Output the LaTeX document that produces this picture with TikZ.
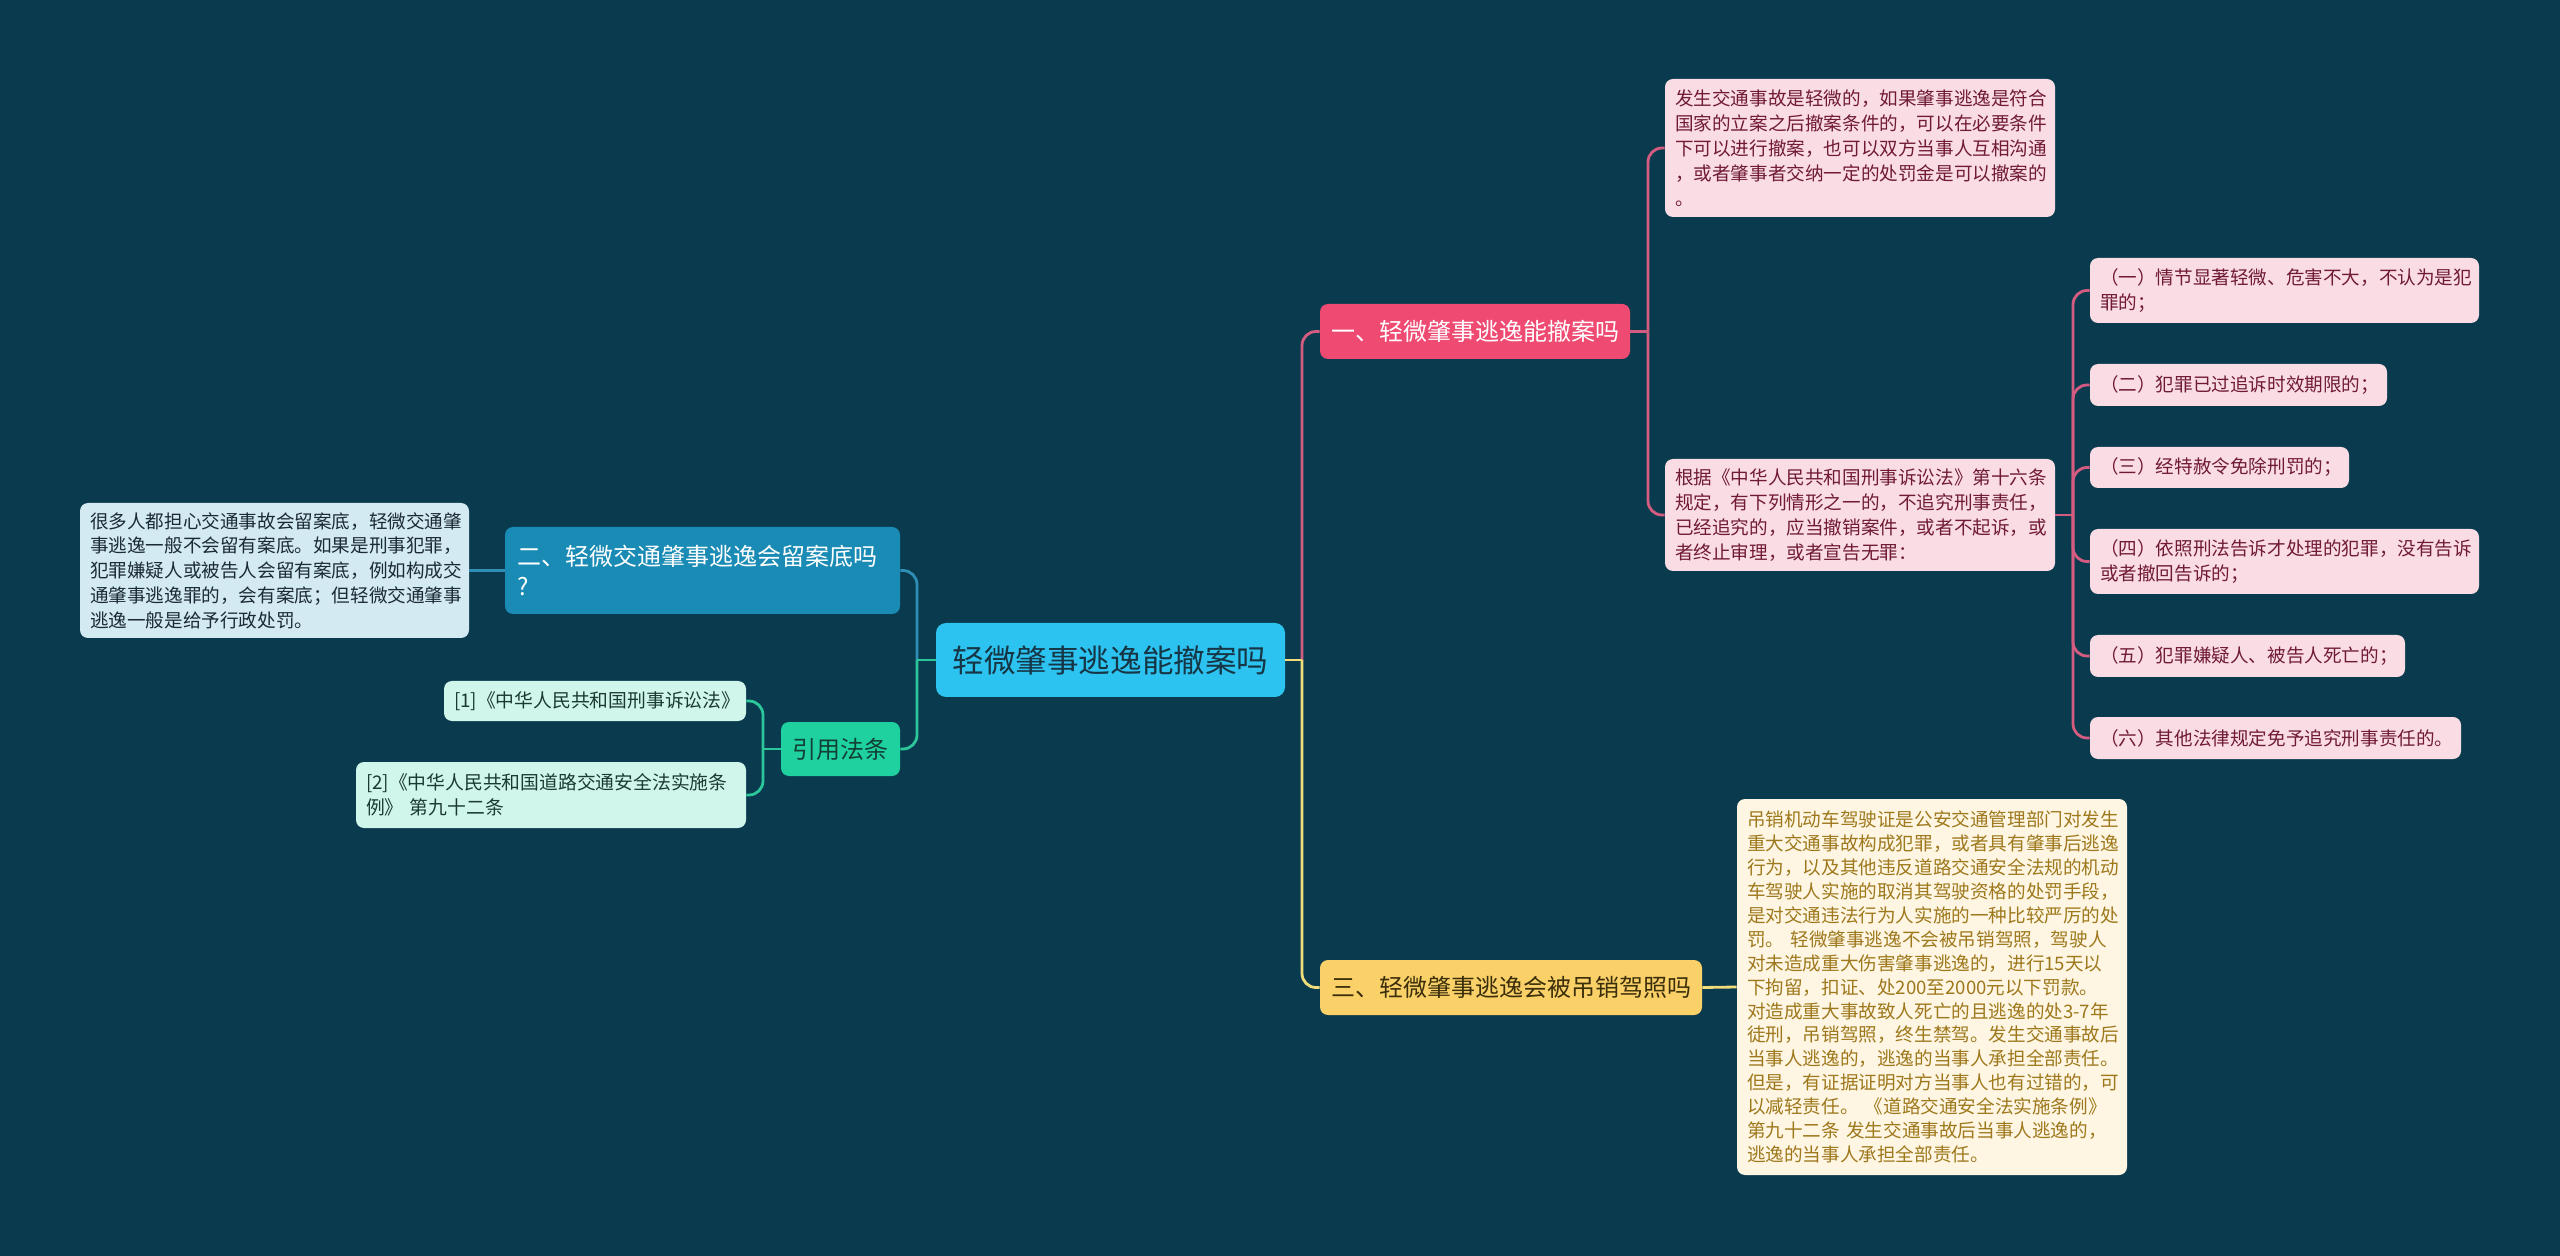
\documentclass[tikz,border=0pt]{standalone}
\usepackage{fontspec}
\setmainfont{Noto Sans CJK SC}
\definecolor{bg}{RGB}{9,58,77}
\definecolor{rootfill}{RGB}{45,195,240}
\definecolor{roottext}{RGB}{22,53,69}
\definecolor{pkfill}{RGB}{239,74,114}
\definecolor{pkline}{RGB}{212,92,128}
\definecolor{pkbox}{RGB}{250,221,228}
\definecolor{pktext}{RGB}{112,26,54}
\definecolor{ylfill}{RGB}{250,208,104}
\definecolor{yltext}{RGB}{59,46,10}
\definecolor{ylline}{RGB}{240,220,122}
\definecolor{ylbox}{RGB}{254,246,226}
\definecolor{ylboxtext}{RGB}{158,120,28}
\definecolor{blfill}{RGB}{26,139,181}
\definecolor{blline}{RGB}{47,142,181}
\definecolor{blbox}{RGB}{212,234,242}
\definecolor{blboxtext}{RGB}{27,43,53}
\definecolor{grfill}{RGB}{31,209,158}
\definecolor{grtext}{RGB}{18,64,53}
\definecolor{grline}{RGB}{43,199,155}
\definecolor{grbox}{RGB}{208,245,235}
\definecolor{grboxtext}{RGB}{27,58,51}
\tikzset{
  conn/.style={line width=1.4pt, rounded corners=7pt},
  pkc/.style={conn, draw=pkline},
  ylc/.style={conn, draw=ylline},
  blc/.style={conn, draw=blline},
  grc/.style={conn, draw=grline},
  smalltxt/.style={font=\fontsize{9.6pt}{12.5pt}\selectfont, align=left, inner xsep=5pt, inner ysep=0pt, rounded corners=4pt},
  pkb/.style={smalltxt, fill=pkbox, text=pktext, font=\fontsize{9.3pt}{12.5pt}\selectfont},
  ylb/.style={smalltxt, fill=ylbox, text=ylboxtext, font=\fontsize{9.3pt}{11.95pt}\selectfont},
  blb/.style={smalltxt, fill=blbox, text=blboxtext, font=\fontsize{9.3pt}{12.4pt}\selectfont},
  grb/.style={smalltxt, fill=grbox, text=grboxtext, font=\fontsize{9.4pt}{12.5pt}\selectfont},
  lvl/.style={font=\fontsize{12pt}{15pt}\selectfont, inner sep=0pt, rounded corners=4pt, minimum height=27.5pt},
}
\begin{document}
\begin{tikzpicture}[x=0.5pt,y=-0.5pt]
\fill[bg] (0,0) rectangle (2560,1256);
\useasboundingbox (0,0) rectangle (2560,1256);

% root
\node[fill=rootfill, text=roottext, rounded corners=5pt, minimum width=174.5pt, minimum height=37pt, inner sep=0pt, font=\fontsize{15.8pt}{18pt}\selectfont] (root) at (1110.5,660) {轻微肇事逃逸能撤案吗};

% level 1
\node[lvl, fill=pkfill, text=white, minimum width=155pt] (n1) at (1475,331.5) {一、轻微肇事逃逸能撤案吗};
\node[lvl, fill=ylfill, text=yltext, minimum width=191pt] (n3) at (1511,987.5) {三、轻微肇事逃逸会被吊销驾照吗};
\node[lvl, fill=blfill, text=white, text width=185.5pt, inner xsep=6pt, minimum height=43.5pt, align=left] (n2) at (702.5,570.5) {二、轻微交通肇事逃逸会留案底吗\\?};
\node[lvl, fill=grfill, text=grtext, minimum width=59.5pt, minimum height=27pt] (cite) at (840.5,749) {引用法条};

% pink text boxes
\node[pkb, text width=185pt, minimum height=69pt] (p1) at (1860,148) {发生交通事故是轻微的，如果肇事逃逸是符合\\国家的立案之后撤案条件的，可以在必要条件\\下可以进行撤案，也可以双方当事人互相沟通\\，或者肇事者交纳一定的处罚金是可以撤案的\\。};
\node[pkb, text width=185pt, minimum height=56pt] (p2) at (1860,515) {根据《中华人民共和国刑事诉讼法》第十六条\\规定，有下列情形之一的，不追究刑事责任，\\已经追究的，应当撤销案件，或者不起诉，或\\者终止审理，或者宣告无罪：};

\node[pkb, text width=184.5pt, minimum height=32.5pt] (i1) at (2284.5,290.5) {（一）情节显著轻微、危害不大，不认为是犯\\罪的；};
\node[pkb, text width=138.5pt, minimum height=21pt] (i2) at (2238.5,385) {（二）犯罪已过追诉时效期限的；};
\node[pkb, text width=119.5pt, minimum height=20.5pt] (i3) at (2219.5,467.5) {（三）经特赦令免除刑罚的；};
\node[pkb, text width=184.5pt, minimum height=32.5pt] (i4) at (2284.5,561.5) {（四）依照刑法告诉才处理的犯罪，没有告诉\\或者撤回告诉的；};
\node[pkb, text width=147.5pt, minimum height=21pt] (i5) at (2247.5,656) {（五）犯罪嫌疑人、被告人死亡的；};
\node[pkb, text width=175.5pt, minimum height=21pt] (i6) at (2275.5,738) {（六）其他法律规定免予追究刑事责任的。};

% yellow text box
\node[ylb, text width=185pt, minimum height=188pt] (y1) at (1932,987) {吊销机动车驾驶证是公安交通管理部门对发生\\重大交通事故构成犯罪，或者具有肇事后逃逸\\行为，以及其他违反道路交通安全法规的机动\\车驾驶人实施的取消其驾驶资格的处罚手段，\\是对交通违法行为人实施的一种比较严厉的处\\罚。 轻微肇事逃逸不会被吊销驾照，驾驶人\\对未造成重大伤害肇事逃逸的，进行15天以\\下拘留，扣证、处200至2000元以下罚款。\\对造成重大事故致人死亡的且逃逸的处3-7年\\徒刑，吊销驾照，终生禁驾。发生交通事故后\\当事人逃逸的，逃逸的当事人承担全部责任。\\但是，有证据证明对方当事人也有过错的，可\\以减轻责任。 《道路交通安全法实施条例》\\第九十二条 发生交通事故后当事人逃逸的，\\逃逸的当事人承担全部责任。};

% blue text box
\node[blb, text width=184.5pt, minimum height=67.5pt] (b1) at (274.5,570.5) {很多人都担心交通事故会留案底，轻微交通肇\\事逃逸一般不会留有案底。如果是刑事犯罪，\\犯罪嫌疑人或被告人会留有案底，例如构成交\\通肇事逃逸罪的，会有案底；但轻微交通肇事\\逃逸一般是给予行政处罚。};

% green boxes
\node[grb, text width=141pt, minimum height=20pt] (c1) at (595,701) {[1]《中华人民共和国刑事诉讼法》};
\node[grb, text width=185pt, minimum height=33pt] (c2) at (551,795) {[2]《中华人民共和国道路交通安全法实施条\\例》 第九十二条};

% junctions
\coordinate (jr) at (1302,660);
\coordinate (jl) at (917,660);
\coordinate (j1) at (1648,331.5);
\coordinate (j2) at (2073,515);
\coordinate (jc) at (763,749);

% connectors
\draw[pkc] (jr) |- (n1.west);
\draw[ylc] (jr) |- (n3.west);
\draw[ylc] (root.east) -- (jr);
\draw[blc] (jl) |- (n2.east);
\draw[grc] (jl) |- (cite.east);
\draw[grc] (root.west) -- (jl);

\draw[pkc] (n1.east) -- (j1);
\draw[pkc] (j1) |- (p1.west);
\draw[pkc] (j1) |- (p2.west);

\draw[pkc] (p2.east) -- (j2);
\foreach \t in {i1,i2,i3,i4,i5,i6} \draw[pkc] (j2) |- (\t.west);

\draw[ylc] (n3.east) -- (y1.west);
\draw[blc] (n2.west) -- (b1.east);

\draw[grc] (cite.west) -- (jc);
\draw[grc] (jc) |- (c1.east);
\draw[grc] (jc) |- (c2.east);
\end{tikzpicture}
\end{document}
